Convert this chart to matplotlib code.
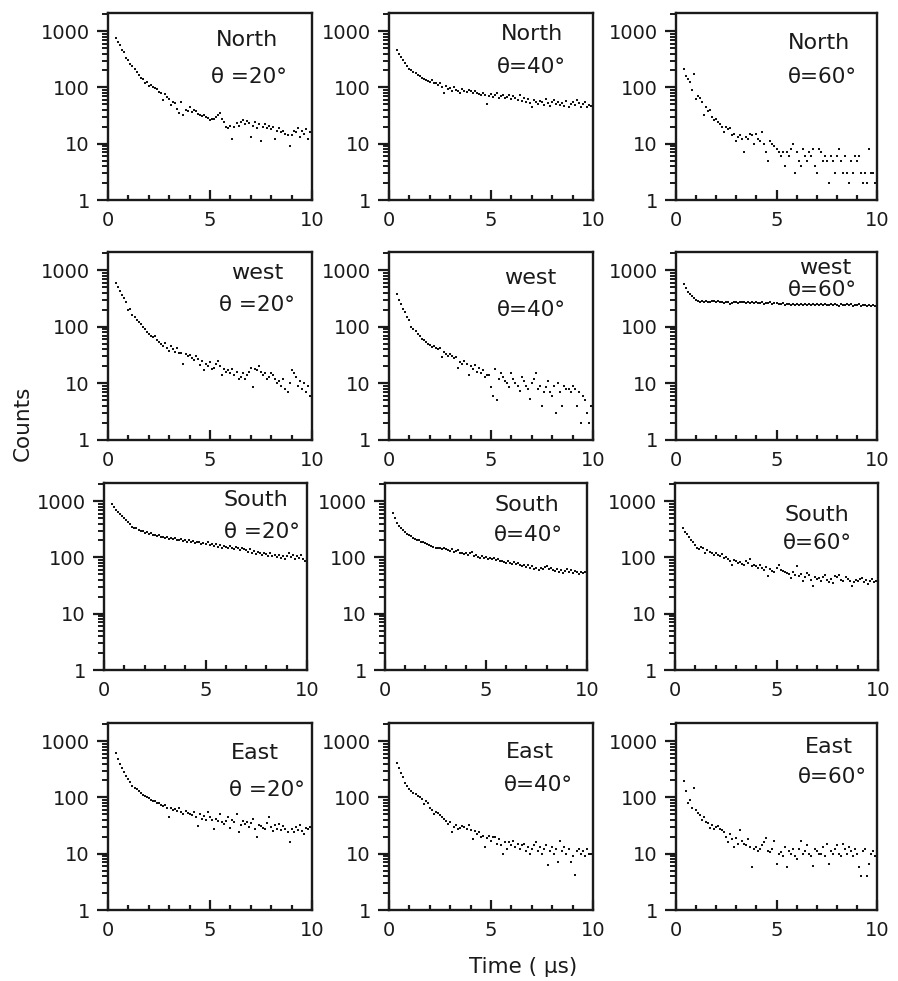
import numpy as np
import matplotlib
matplotlib.use("Agg")
import matplotlib.pyplot as plt
from matplotlib.ticker import FixedLocator, LogLocator, NullFormatter, FixedFormatter

plt.rcParams['font.family'] = ['DejaVu Sans']

# time bins (microseconds): 0.4 ... 10.0
time_us = np.round(np.arange(4, 101) * 0.1, 1)

north_20 = [760, 640, 560, 470, 420, 340,
            310, 260, 240, 215, 190, 165, 150, 140, 120, 125,
            105, 110, 100, 98, 95, 82, 80, 60, 75, 68,
            62, 48, 56, 52, 42, 35, 55, 33, 40, 38,
            44, 36, 40, 38, 34, 33, 31, 32, 30, 29,
            26, 28, 27, 30, 33, 35, 28, 24, 20, 19,
            21, 12, 20, 23, 21, 24, 26, 22, 25, 23,
            13, 21, 24, 19, 22, 11, 20, 22, 19, 21,
            18, 20, 12, 17, 19, 16, 17, 15, 14, 9,
            14, 17, 16, 19, 13, 17, 15, 18, 12, 16,
            29]
north_40 = [470, 400, 350, 310, 270, 240,
            210, 200, 185, 180, 165, 160, 150, 140, 135, 130,
            125, 135, 120, 118, 110, 120, 100, 80, 105, 95,
            97, 85, 100, 90, 88, 80, 92, 86, 82, 90,
            85, 78, 88, 80, 75, 72, 80, 74, 50, 70,
            76, 68, 72, 80, 66, 70, 74, 64, 68, 72,
            62, 70, 66, 60, 72, 58, 64, 55, 62, 52,
            44, 60, 55, 50, 58, 56, 48, 62, 52, 46,
            54, 60, 50, 56, 48, 52, 46, 58, 44, 50,
            55, 48, 60, 52, 45, 50, 56, 44, 48, 46,
            195]
north_60 = [215, 160, 140, 125, 90, 175,
            63, 70, 66, 55, 32, 45, 38, 40, 30, 26,
            28, 24, 22, 20, 16, 20, 18, 19, 14, 15,
            11, 13, 14, 12, 7, 13, 12, 15, 14, 10,
            15, 12, 11, 16, 10, 7, 5, 11, 10, 9,
            8, 7, 6, 7, 4, 7, 6, 8, 10, 3,
            7, 5, 4, 8, 6, 5, 7, 6, 8, 4,
            3, 8, 7, 5, 6, 5, 2, 6, 5, 3,
            6, 8, 5, 3, 6, 3, 2, 5, 3, 6,
            5, 6, 3, 2, 3, 2, 8, 3, 3, 2,
            13]
west_20 = [600, 500, 430, 370, 320, 280,
           200, 210, 160, 150, 130, 120, 110, 100, 90, 80,
           75, 70, 65, 68, 58, 54, 50, 46, 52, 43,
           38, 45, 40, 36, 43, 35, 34, 22, 33, 30,
           32, 28, 26, 30, 27, 21, 25, 17, 22, 20,
           24, 18, 19, 22, 25, 20, 14, 18, 16, 17,
           15, 18, 14, 16, 12, 13, 15, 12, 14, 16,
           19, 8.5, 18, 17, 20, 16, 14, 15, 12, 13,
           15, 14, 12, 10, 11, 9, 12, 8, 7, 10,
           17, 15, 13, 9, 11, 8, 10, 7, 9, 6,
           23]
west_40 = [375, 300, 250, 205, 180, 150,
           130, 100, 91, 85, 75, 70, 62, 58, 54, 50,
           48, 44, 46, 42, 40, 43, 29, 36, 33, 31,
           33, 30, 28, 29, 19, 24, 22, 25, 22, 14,
           20, 18, 21, 16, 19, 15, 17, 13, 14, 14,
           8.5, 6, 18, 5, 12, 15, 13, 11, 10, 8.5,
           15, 12, 10, 9, 7.4, 13, 11, 9, 8, 5.3,
           10, 12, 15, 8, 9, 4, 7, 8.5, 11, 7,
           6, 9, 3, 10, 7, 4, 9, 8, 8, 7,
           9, 8, 4, 7, 2, 6, 5, 3, 2, 4,
           23]
west_60 = [560, 480, 420, 380, 345, 320,
           300, 290, 280, 290, 275, 285, 280, 270, 290, 285,
           280, 290, 275, 270, 265, 280, 270, 255, 265, 275,
           270, 260, 280, 275, 270, 265, 275, 260, 270, 265,
           270, 265, 260, 275, 255, 265, 260, 270, 255, 260,
           265, 255, 250, 260, 245, 255, 250, 245, 255, 240,
           250, 245, 255, 240, 250, 245, 255, 240, 250, 245,
           250, 240, 255, 245, 250, 240, 245, 255, 240, 250,
           245, 235, 250, 240, 245, 255, 240, 250, 235, 245,
           240, 250, 235, 245, 240, 230, 245, 235, 240, 230,
           1000]
south_20 = [900, 780, 700, 640, 580, 540,
            500, 460, 420, 390, 350, 330, 340, 310, 300, 290,
            275, 280, 260, 270, 250, 255, 240, 250, 235, 230,
            220, 230, 215, 225, 210, 220, 205, 200, 215, 195,
            200, 190, 205, 185, 195, 180, 190, 185, 175, 180,
            170, 185, 165, 175, 160, 170, 155, 165, 150, 160,
            155, 145, 160, 150, 140, 155, 145, 138, 150, 140,
            135, 125, 140, 120, 130, 115, 125, 118, 112, 120,
            115, 108, 120, 105, 112, 100, 110, 98, 105, 95,
            108, 120, 100, 112, 95, 105, 98, 110, 92, 88,
            420]
south_40 = [620, 500, 410, 360, 330, 310,
            280, 260, 250, 240, 225, 215, 205, 200, 190, 185,
            180, 170, 165, 160, 155, 150, 145, 150, 140, 145,
            140, 135, 130, 140, 125, 128, 135, 118, 122, 115,
            118, 112, 120, 125, 105, 110, 100, 96, 105, 98,
            100, 95, 98, 92, 96, 90, 94, 85, 88, 82,
            79, 85, 80, 76, 82, 75, 78, 72, 69, 74,
            68, 72, 65, 70, 63, 66, 60, 64, 62, 67,
            69, 62, 65, 60, 58, 63, 56, 60, 52, 58,
            62, 55, 60, 52, 58, 54, 50, 56, 52, 55,
            220]
south_60 = [330, 280, 260, 235, 200, 190,
            167, 150, 140, 155, 145, 120, 135, 125, 118, 112,
            120, 110, 105, 115, 98, 100, 95, 88, 74, 90,
            85, 79, 82, 76, 72, 85, 80, 92, 69, 74,
            70, 65, 72, 65, 60, 68, 46, 62, 58, 55,
            64, 74, 60, 58, 56, 52, 50, 43, 55, 48,
            69, 46, 50, 38, 45, 52, 48, 40, 31, 44,
            42, 43, 38, 45, 49, 40, 36, 42, 35, 46,
            44, 49, 40, 38, 45, 42, 38, 31, 36, 40,
            38, 42, 43, 36, 40, 34, 38, 42, 37, 38,
            125]
east_20 = [610, 480, 400, 330, 280, 240,
           210, 185, 160, 150, 140, 128, 120, 110, 105, 100,
           97, 90, 88, 85, 80, 78, 74, 70, 72, 66,
           44, 65, 60, 62, 58, 65, 55, 50, 58, 52,
           50, 48, 55, 45, 31, 50, 42, 47, 40, 56,
           44, 40, 27, 42, 38, 50, 36, 34, 38, 45,
           29, 40, 36, 50, 24, 32, 38, 34, 36, 30,
           35, 41, 28, 19.5, 33, 31, 29, 27, 35, 44,
           30, 25, 32, 28, 34, 26, 31, 27, 24, 16,
           28, 24, 30, 26, 32, 25, 22, 29, 27, 30,
           92]
east_40 = [405, 330, 275, 230, 184, 160,
           140, 130, 120, 115, 108, 100, 95, 76, 88, 80,
           66, 60, 51, 56, 52, 48, 45, 42, 38, 34,
           36, 24, 30, 33, 27.5, 29, 31, 30, 28, 32,
           26, 18, 25, 22, 24, 20, 21, 13, 19, 21,
           17, 20, 19.5, 15, 18, 14, 10, 16, 12, 16,
           14, 17, 13, 15, 12, 14, 15, 11, 13, 10,
           12, 14, 16, 11, 13, 10, 12, 14, 6.2, 11,
           13, 10, 12, 7, 17, 11, 13, 10, 12, 7,
           9, 4.2, 11, 12, 10, 11, 9, 12, 10, 10,
           39]
east_60 = [193, 128, 80, 90, 65, 150,
           60, 53, 48, 40, 45, 37, 35, 29, 32, 28,
           30, 31, 27, 26, 24, 20, 16, 22, 18, 13,
           19, 15, 26, 17, 15, 14, 18, 13, 5.9, 12,
           13, 11, 12, 14, 16, 19, 11, 10.7, 12, 17,
           6.6, 10, 10.7, 9, 13, 5.9, 11, 10, 12, 9,
           8, 12, 17, 10, 11, 14, 10, 9, 6, 12,
           11, 10, 10, 13, 9, 15, 6.6, 11, 10, 12,
           14, 10, 9, 15, 12, 10, 13, 11, 9, 12,
           10, 5.9, 4.1, 11, 12, 4.1, 6.6, 10, 11, 9,
           25]

directions = ["North", "west", "South", "East"]
angle_labels = [["θ =20°", "θ=40°", "θ=60°"]] * 4
series = [[north_20, north_40, north_60],
          [west_20, west_40, west_60],
          [south_20, south_40, south_60],
          [east_20, east_40, east_60]]
y_ticks = [1, 10, 100, 1000]
y_tick_labels = ["1", "10", "100", "1000"]
x_ticks = [0, 5, 10]
x_tick_labels = ["0", "5", "10"]

# ---- layout (pixels) ----
W, H = 898, 981
col_lr = [[(108, 312), (389, 593), (676, 877)],
          [(108, 312), (389, 593), (676, 877)],
          [(104, 307), (385, 587), (675, 878)],
          [(108, 312), (389, 593), (676, 877)]]
row_tb = [(13, 200), (252, 440), (483, 670), (723, 910)]
# text anchor positions (axes fraction) for direction / angle labels
dir_pos = [[(0.68, 0.855), (0.70, 0.89), (0.71, 0.84)],
           [(0.73, 0.89), (0.69, 0.86), (0.74, 0.915)],
           [(0.75, 0.91), (0.70, 0.88), (0.70, 0.83)],
           [(0.72, 0.84), (0.69, 0.845), (0.76, 0.87)]]
ang_pos = [[(0.69, 0.66), (0.70, 0.71), (0.73, 0.66)],
           [(0.73, 0.72), (0.70, 0.69), (0.73, 0.80)],
           [(0.78, 0.74), (0.71, 0.72), (0.70, 0.68)],
           [(0.78, 0.64), (0.73, 0.67), (0.78, 0.71)]]

fig = plt.figure(figsize=(W / 100, H / 100), dpi=100)
fig.patch.set_facecolor("white")

for r in range(4):
    top, bot = row_tb[r]
    for c in range(3):
        l, rr = col_lr[r][c]
        ax = fig.add_axes([l / W, 1 - bot / H, (rr - l) / W, (bot - top) / H])
        ax.plot(time_us, series[r][c], linestyle="none", marker="s",
                markersize=2.0, markeredgewidth=0, color="#111111", clip_on=True)
        ax.set_yscale("log")
        ax.set_ylim(1, 2100)
        ax.set_xlim(0, 10)
        for s in ax.spines.values():
            s.set_linewidth(1.7)
            s.set_color("#1a1a1a")
        ax.yaxis.set_major_locator(FixedLocator(y_ticks))
        ax.yaxis.set_major_formatter(FixedFormatter(y_tick_labels))
        ax.yaxis.set_minor_locator(LogLocator(base=10, subs=np.arange(2, 10)))
        ax.yaxis.set_minor_formatter(NullFormatter())
        ax.xaxis.set_major_locator(FixedLocator(x_ticks))
        ax.xaxis.set_major_formatter(FixedFormatter(x_tick_labels))
        ax.xaxis.set_minor_locator(FixedLocator(np.arange(1, 10)))
        ax.tick_params(axis="y", which="major", direction="out", length=8,
                       width=1.6, labelsize=14, pad=5, colors="#1a1a1a")
        ax.tick_params(axis="y", which="minor", direction="out", length=4.5,
                       width=1.4, colors="#1a1a1a")
        ax.tick_params(axis="x", which="major", direction="in", length=7,
                       width=1.6, labelsize=14, pad=8, colors="#1a1a1a")
        ax.tick_params(axis="x", which="minor", direction="in", length=3.5,
                       width=1.6, colors="#1a1a1a")
        dx, dy = dir_pos[r][c]
        ax.text(dx, dy, directions[r], transform=ax.transAxes, fontsize=16,
                ha="center", va="center", color="#1a1a1a")
        axx, axy = ang_pos[r][c]
        ax.text(axx, axy, angle_labels[r][c], transform=ax.transAxes,
                fontsize=15.5, ha="center", va="center", color="#1a1a1a")

fig.text(23 / W, 1 - 423 / H, "Counts", rotation=90, fontsize=15.5,
         ha="center", va="center", color="#1a1a1a")
fig.text(523 / W, 1 - 967 / H, "Time ( µs)", fontsize=15.5,
         ha="center", va="center", color="#1a1a1a")

fig.savefig("out.png", dpi=100, facecolor="white")
